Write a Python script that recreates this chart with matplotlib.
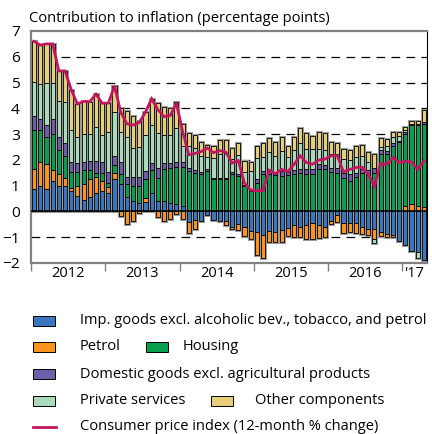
import matplotlib
matplotlib.use("Agg")
import matplotlib.pyplot as plt
from matplotlib.patches import Rectangle
from matplotlib.lines import Line2D
import numpy as np

# monthly contributions, Jan 2012 - Apr 2017 (percentage points)
imported = [0.88, 0.98, 0.86, 1.17, 1.00, 0.98, 0.80, 0.60, 0.46, 0.55, 0.73, 0.80,
            0.70, 1.24, 1.08, 0.55, 0.40, 0.34, 0.37, 0.71, 0.40, 0.40, 0.32, 0.28,
            0.20, -0.40, -0.33, -0.37, -0.13, -0.33, -0.37, -0.39, -0.59, -0.50, -0.59, -0.76,
            -0.78, -0.92, -0.76, -0.78, -0.72, -0.63, -0.52, -0.60, -0.52, -0.46, -0.52, -0.59,
            -0.37, -0.13, -0.46, -0.43, -0.46, -0.59, -0.68, -0.68, -0.78, -0.89, -0.92, -1.15,
            -1.31, -1.55, -1.57, -1.90]
petrol = [0.78, 0.92, 0.98, 0.45, 0.46, 0.32, 0.10, 0.38, 0.60, 0.70, 0.60, 0.40,
          0.23, 0.25, -0.18, -0.50, -0.38, -0.05, 0.17, 0.00, -0.20, -0.38, -0.30, -0.08,
          -0.29, -0.45, -0.35, 0.00, 0.00, 0.00, 0.00, -0.13, -0.10, -0.22, -0.35, -0.31,
          -0.92, -0.88, -0.42, -0.42, -0.46, -0.31, -0.46, -0.40, -0.53, -0.59, -0.50, -0.39,
          -0.13, -0.29, -0.39, -0.38, -0.39, -0.30, -0.22, -0.37, -0.16, -0.09, -0.06, 0.00,
          0.22, 0.29, 0.20, 0.16]
housing = [1.49, 1.25, 1.06, 1.40, 0.94, 0.84, 0.62, 0.55, 0.54, 0.35, 0.17, 0.30,
           0.17, 0.30, 0.38, 0.50, 0.60, 0.66, 0.72, 0.89, 0.90, 1.26, 1.36, 1.44,
           1.53, 1.55, 1.50, 1.46, 1.57, 1.24, 1.24, 1.24, 1.44, 1.37, 0.98, 0.80,
           1.10, 1.44, 1.44, 1.40, 1.37, 1.40, 1.45, 1.50, 1.46, 1.46, 1.63, 1.63,
           1.54, 1.50, 1.28, 1.20, 1.33, 1.50, 1.42, 1.50, 2.22, 2.22, 2.55, 2.68,
           2.80, 3.05, 3.15, 3.25]
domestic = [0.57, 0.45, 0.47, 0.58, 0.47, 0.50, 0.40, 0.35, 0.33, 0.35, 0.45, 0.43,
            0.43, 0.35, 0.46, 0.30, 0.33, 0.35, 0.29, 0.26, 0.40, 0.20, 0.18, 0.20,
            0.17, 0.15, 0.12, 0.08, 0.07, 0.06, 0.06, 0.06, 0.10, 0.08, 0.05, 0.05,
            0.17, 0.13, 0.12, 0.12, 0.20, 0.13, 0.15, 0.15, 0.17, 0.17, 0.20, 0.17,
            0.13, 0.17, 0.22, 0.24, 0.17, 0.15, 0.18, 0.17, 0.16, 0.13, 0.10, 0.05,
            0.08, 0.06, 0.06, 0.06]
services = [1.30, 1.35, 1.63, 1.40, 1.42, 1.62, 1.25, 0.99, 1.07, 1.05, 1.31, 1.04,
            1.57, 1.70, 1.18, 1.55, 1.12, 1.15, 1.40, 1.51, 1.34, 1.11, 1.11, 1.32,
            0.65, 0.85, 0.85, 0.60, 0.46, 0.78, 0.92, 0.95, 0.50, 0.75, 0.50, 0.70,
            0.80, 0.55, 0.75, 0.65, 0.78, 0.60, 0.80, 1.00, 0.80, 0.80, 0.60, 0.60,
            0.55, 0.55, 0.52, 0.55, 0.60, 0.50, 0.32, -0.19, 0.13, 0.20, 0.25, 0.20,
            0.05, 0.00, -0.23, 0.00]
other = [1.58, 1.50, 1.50, 1.50, 1.16, 1.19, 1.55, 1.30, 1.27, 1.26, 1.29, 1.23,
         1.10, 1.03, 0.92, 1.00, 1.27, 1.00, 0.90, 1.00, 1.16, 1.08, 1.06, 1.00,
         0.85, 0.50, 0.48, 0.54, 0.49, 0.47, 0.55, 0.52, 0.44, 0.44, 0.43, 0.38,
         0.48, 0.52, 0.53, 0.51, 0.53, 0.42, 0.48, 0.59, 0.60, 0.51, 0.64, 0.63,
         0.46, 0.42, 0.40, 0.39, 0.45, 0.44, 0.38, 0.55, 0.33, 0.26, 0.17, 0.14,
         0.12, 0.09, 0.08, 0.48]
cpi = [6.60, 6.45, 6.50, 6.50, 5.45, 5.45, 4.72, 4.17, 4.27, 4.26, 4.55, 4.20,
       4.20, 4.87, 3.85, 3.40, 3.35, 3.45, 3.85, 4.37, 3.95, 3.68, 3.72, 4.20,
       3.10, 2.20, 2.25, 2.32, 2.46, 2.28, 2.36, 2.30, 1.88, 1.97, 1.10, 0.83,
       0.81, 0.81, 1.60, 1.46, 1.63, 1.55, 1.82, 2.16, 1.90, 1.83, 1.99, 2.03,
       2.16, 2.16, 1.54, 1.63, 1.70, 1.72, 1.44, 0.98, 1.86, 1.83, 2.09, 1.90,
       1.94, 1.92, 1.63, 1.96]

year_labels = ["2012", "2013", "2014", "2015", "2016", "'17"]
year_starts = [0, 12, 24, 36, 48, 60]

SERIES = [
    (imported, "#3b76c0", "Imp. goods excl. alcoholic bev., tobacco, and petrol"),
    (petrol, "#f7931e", "Petrol"),
    (housing, "#0a9e4f", "Housing"),
    (domestic, "#6c5ea8", "Domestic goods excl. agricultural products"),
    (services, "#a9dbbb", "Private services"),
    (other, "#e6cf7b", "Other components"),
]
CPI_COLOR = "#c4165f"
FS = 10.55

plt.rcParams.update({
    "font.family": ["Open Sans", "DejaVu Sans"],
    "font.size": FS,
})

fig = plt.figure(figsize=(4.32, 4.34), dpi=100)
ax = fig.add_axes([31 / 432, 1 - 263 / 434, 396 / 432, 232 / 434])

n = len(cpi)
x = np.arange(n)
w = 0.66
pos_base = np.zeros(n)
neg_base = np.zeros(n)
for vals, color, label in SERIES:
    v = np.array(vals)
    bottom = np.where(v >= 0, pos_base, neg_base)
    ax.bar(x, v, w, bottom=bottom, color=color, edgecolor="black",
           linewidth=0.6, zorder=3)
    pos_base += np.clip(v, 0, None)
    neg_base += np.clip(v, None, 0)

# grey halo round each stacked column
ax.bar(x, pos_base - neg_base, w, bottom=neg_base, facecolor="none",
       edgecolor="#9c9c9c", linewidth=2.2, zorder=2)

ax.plot(x, cpi, color=CPI_COLOR, lw=2.0, zorder=5, solid_joinstyle="miter")
ax.axhline(0, color="black", lw=1.1, zorder=4)
for yv in [-1, 1, 2, 3, 4, 5, 6]:
    ax.axhline(yv, color="black", lw=0.9, ls=(0, (7, 5)), zorder=1)

ax.set_xlim(-0.5, n - 0.5)
ax.set_ylim(-2, 7)
ax.set_yticks(range(-2, 8))
ax.tick_params(axis="y", length=0, pad=8, labelsize=FS + 0.6)

ax.set_xticks([s - 0.5 for s in year_starts])
ax.set_xticklabels([])
ax.tick_params(axis="x", length=6, width=1.0, color="#808080", direction="out")
ends = year_starts[1:] + [n]
for s, e, lab in zip(year_starts, ends, year_labels):
    ax.text((s + e - 1) / 2, -2.4, lab, ha="center", va="center", fontsize=FS)

for side in ["left", "top", "bottom"]:
    ax.spines[side].set_color("#808080")
    ax.spines[side].set_linewidth(1.6)
ax.spines["right"].set_color("black")
ax.spines["right"].set_linewidth(0.8)

fig.text(29 / 432, 1 - 18 / 434, "Contribution to inflation (percentage points)",
         ha="left", va="center", fontsize=FS)

# legend, laid out by hand
def patch(px, py, color):
    fig.patches.append(Rectangle((px / 432, 1 - (py + 5) / 434), 22 / 432, 10 / 434,
                                 transform=fig.transFigure, facecolor=color,
                                 edgecolor="black", linewidth=0.7))

def label(px, py, text):
    fig.text(px / 432, 1 - py / 434, text, ha="left", va="center", fontsize=FS)

rows = [(321, [(33, 80, 0)]),
        (347, [(33, 80, 1), (146, 183, 2)]),
        (374, [(33, 80, 3)]),
        (401, [(33, 80, 4), (211, 255, 5)])]
for py, items in rows:
    for px, tx, k in items:
        patch(px, py, SERIES[k][1])
        label(tx, py, SERIES[k][2])
fig.lines.append(Line2D([33 / 432, 56 / 432], [1 - 427 / 434] * 2,
                        transform=fig.transFigure, color=CPI_COLOR, lw=2.0))
label(80, 426, "Consumer price index (12-month % change)")

fig.savefig("out.png", dpi=100)
